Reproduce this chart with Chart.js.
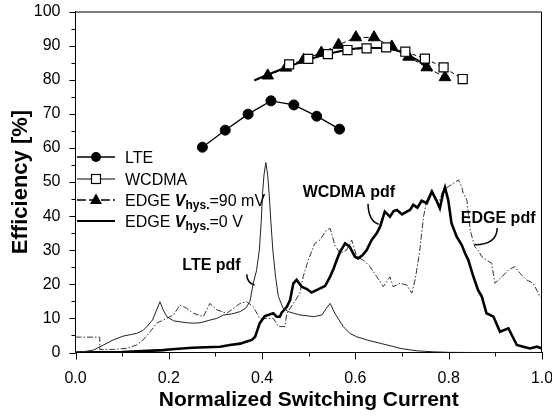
<!DOCTYPE html>
<html>
<head>
<meta charset="utf-8">
<script src="https://cdn.jsdelivr.net/npm/chart.js@4/dist/chart.umd.min.js"></script>
<style>
  html, body { margin: 0; padding: 0; background: #fff; }
  #wrap { width: 552px; height: 417px; position: relative; }
</style>
</head>
<body>
<div id="wrap"><canvas id="c" width="552" height="417"></canvas></div>
<script>
// Efficiency curves (left axis, %)
const lteX = [0.272, 0.321, 0.370, 0.419, 0.468, 0.517, 0.566];
const lteEff = [60.2, 65.2, 69.9, 73.8, 72.6, 69.3, 65.5];

const wcdmaX = [0.458, 0.499, 0.541, 0.583, 0.624, 0.666, 0.707, 0.749, 0.789, 0.830];
const wcdmaEff = [84.5, 86.1, 87.5, 88.7, 89.2, 89.5, 88.2, 86.2, 83.6, 80.2];

const edge90X = [0.412, 0.451, 0.489, 0.527, 0.564, 0.601, 0.640, 0.678, 0.714, 0.753, 0.792];
const edge90Eff = [81.2, 83.5, 85.8, 87.9, 90.2, 92.4, 92.4, 89.7, 86.7, 83.6, 80.7];

const edge0X = [0.383, 0.42, 0.46, 0.50, 0.54, 0.58, 0.62, 0.66, 0.70, 0.73, 0.765];
const edge0Eff = [79.8, 81.9, 84.0, 85.9, 87.5, 88.7, 89.4, 89.3, 88.0, 86.0, 82.6];

// Switching-current probability density curves (same axis)
const ltePdfX = [0, 0.02, 0.038, 0.06, 0.081, 0.102, 0.12, 0.131, 0.145, 0.153, 0.165, 0.174, 0.181, 0.188, 0.196, 0.21, 0.224, 0.24, 0.253, 0.267, 0.288, 0.303, 0.317, 0.335, 0.353, 0.365, 0.374, 0.381, 0.388, 0.394, 0.398, 0.401, 0.404, 0.408, 0.412, 0.415, 0.419, 0.423, 0.429, 0.435, 0.445, 0.456, 0.468, 0.481, 0.495, 0.51, 0.528, 0.538, 0.546, 0.556, 0.574, 0.588, 0.603, 0.624, 0.653, 0.68, 0.696, 0.731, 0.767, 0.8, 0.85, 0.9, 1.0];
const ltePdf = [0, 0.3, 0.7, 2.2, 3.7, 4.8, 5.3, 5.6, 6.5, 7.6, 9.5, 12.5, 14.9, 12.5, 10.5, 9.3, 9.0, 8.7, 8.6, 8.7, 9.5, 10.0, 11.0, 11.3, 12.0, 13.0, 15.0, 20.3, 24.0, 30.0, 38.0, 46.7, 52.0, 55.7, 52.0, 46.7, 38.0, 30.0, 22.0, 16.4, 13.0, 12.0, 11.5, 11.0, 10.8, 10.5, 11.0, 13.0, 14.4, 11.5, 7.6, 5.6, 4.6, 3.7, 2.7, 1.8, 1.2, 0.5, 0.2, 0.05, 0, 0, 0];

const wcdmaPdfX = [0, 0.1, 0.188, 0.2, 0.25, 0.31, 0.331, 0.353, 0.367, 0.378, 0.385, 0.395, 0.406, 0.424, 0.431, 0.438, 0.442, 0.453, 0.46, 0.467, 0.474, 0.485, 0.496, 0.506, 0.52, 0.535, 0.545, 0.553, 0.56, 0.567, 0.578, 0.588, 0.599, 0.606, 0.615, 0.624, 0.635, 0.646, 0.653, 0.663, 0.667, 0.674, 0.682, 0.689, 0.7, 0.71, 0.717, 0.724, 0.733, 0.742, 0.753, 0.764, 0.774, 0.781, 0.788, 0.792, 0.799, 0.806, 0.817, 0.828, 0.835, 0.842, 0.853, 0.863, 0.871, 0.881, 0.896, 0.91, 0.928, 0.946, 0.96, 0.974, 0.989, 1.0];
const wcdmaPdf = [0, 0.1, 0.7, 0.9, 1.4, 1.7, 2.2, 2.6, 3.2, 3.7, 4.6, 8.6, 10.7, 11.5, 10.5, 10.5, 11.7, 13.4, 15.4, 20.3, 21.3, 19.3, 18.6, 17.6, 18.5, 19.5, 22.0, 24.5, 27.1, 29.5, 32.0, 31.0, 28.1, 27.6, 28.5, 30.0, 33.0, 35.0, 36.9, 41.3, 40.8, 39.8, 41.5, 41.8, 40.5, 41.3, 41.8, 43.3, 42.5, 44.5, 43.8, 47.2, 44.5, 42.3, 46.7, 48.4, 44.7, 37.9, 34.0, 31.5, 29.1, 27.1, 22.2, 18.3, 16.4, 11.5, 10.5, 6.1, 7.1, 2.2, 1.7, 1.2, 1.7, 1.2];

const edgePdfX = [0, 0.052, 0.052, 0.081, 0.11, 0.131, 0.145, 0.16, 0.174, 0.188, 0.21, 0.224, 0.238, 0.253, 0.274, 0.288, 0.303, 0.324, 0.353, 0.367, 0.381, 0.395, 0.41, 0.424, 0.435, 0.449, 0.453, 0.467, 0.481, 0.488, 0.499, 0.513, 0.524, 0.538, 0.546, 0.556, 0.567, 0.581, 0.592, 0.603, 0.617, 0.631, 0.646, 0.66, 0.674, 0.681, 0.696, 0.71, 0.721, 0.728, 0.735, 0.738, 0.746, 0.753, 0.764, 0.774, 0.781, 0.788, 0.799, 0.81, 0.821, 0.828, 0.831, 0.839, 0.846, 0.856, 0.863, 0.871, 0.881, 0.892, 0.899, 0.914, 0.928, 0.942, 0.953, 0.967, 0.981, 0.996, 1.0];
const edgePdf = [4.5, 4.5, 0.9, 0.9, 1.2, 2.2, 3.7, 6.1, 8.6, 9.5, 11.0, 13.9, 13.0, 11.5, 10.5, 14.4, 12.5, 11.5, 14.4, 14.9, 13.4, 10.0, 10.0, 10.0, 7.6, 7.6, 11.5, 14.4, 17.4, 22.2, 27.1, 32.0, 33.0, 35.9, 36.4, 31.5, 29.1, 30.0, 33.0, 28.1, 27.1, 25.2, 22.2, 19.3, 22.2, 19.3, 20.3, 19.8, 17.4, 21.3, 27.1, 30.0, 39.8, 44.7, 47.7, 44.7, 44.7, 47.7, 48.6, 49.6, 50.6, 48.6, 46.7, 44.7, 35.9, 31.0, 30.0, 28.1, 27.1, 26.2, 20.3, 22.2, 24.2, 25.2, 23.2, 21.3, 20.3, 16.4, 15.9];

// Axis ticks
const xTickStep = 0.1;
const yTickStep = 5;

const FONT = "'Liberation Sans', Arial, Helvetica, sans-serif";
const pts = (xs, ys) => xs.map((x, i) => ({ x: x, y: ys[i] }));

// Outward tick marks (long for labelled, short for unlabelled), frame and annotations
const decor = {
  id: 'decor',
  afterDraw(chart) {
    const ctx = chart.ctx;
    const xs = chart.scales.x, ys = chart.scales.y;
    const a = chart.chartArea;
    ctx.save();
    ctx.strokeStyle = '#000';
    ctx.lineWidth = 1;
    // frame top and right
    ctx.beginPath();
    ctx.moveTo(a.left, a.top + 0.5);
    ctx.lineTo(a.right - 0.5, a.top + 0.5);
    ctx.lineTo(a.right - 0.5, a.bottom);
    ctx.stroke();
    // x ticks
    xs.ticks.forEach(t => {
      const major = Math.round(t.value * 10) % 2 === 0;
      const px = Math.round(xs.getPixelForValue(t.value)) + 0.5;
      ctx.beginPath();
      ctx.moveTo(px, a.bottom);
      ctx.lineTo(px, a.bottom + (major ? 7 : 4));
      ctx.stroke();
    });
    // y ticks
    ys.ticks.forEach(t => {
      const major = Math.round(t.value) % 10 === 0;
      const py = Math.round(ys.getPixelForValue(t.value)) + 0.5;
      ctx.beginPath();
      ctx.moveTo(a.left, py);
      ctx.lineTo(a.left - (major ? 6 : 4), py);
      ctx.stroke();
    });

    // pdf labels with curved leaders
    const P = (x, y) => [xs.getPixelForValue(x), ys.getPixelForValue(y)];
    ctx.fillStyle = '#000';
    ctx.font = 'bold 16px ' + FONT;
    ctx.textAlign = 'center';
    ctx.textBaseline = 'middle';
    const labels = [
      ['LTE pdf', 0.2915, 25.5],
      ['WCDMA pdf', 0.586, 46.9],
      ['EDGE pdf', 0.906, 39.4]
    ];
    labels.forEach(l => { const p = P(l[1], l[2]); ctx.fillText(l[0], p[0], p[1]); });
    const leaders = [
      [[0.367, 22.9], [0.368, 20.3], [0.384, 19.8]],
      [[0.627, 43.6], [0.628, 38.5], [0.650, 37.6]],
      [[0.904, 36.5], [0.903, 31.6], [0.856, 31.6]]
    ];
    ctx.lineWidth = 1.5;
    leaders.forEach(l => {
      const s = P(...l[0]), c = P(...l[1]), e = P(...l[2]);
      ctx.beginPath();
      ctx.moveTo(s[0], s[1]);
      ctx.quadraticCurveTo(c[0], c[1], e[0], e[1]);
      ctx.stroke();
    });

    // legend
    const lx0 = 77, lx1 = 115, mx = 96, tx = 125;
    const rows = [157, 179, 200, 221];
    ctx.textAlign = 'left';
    ctx.textBaseline = 'alphabetic';
    const drawSample = (y, dash, width) => {
      ctx.save();
      ctx.lineWidth = width;
      ctx.setLineDash(dash);
      ctx.beginPath();
      ctx.moveTo(lx0, y); ctx.lineTo(lx1, y);
      ctx.stroke();
      ctx.restore();
    };
    // LTE
    drawSample(rows[0], [], 1.3);
    ctx.beginPath(); ctx.arc(mx, rows[0], 5, 0, Math.PI * 2); ctx.fill();
    // WCDMA
    drawSample(rows[1], [], 1.2);
    ctx.fillStyle = '#fff';
    ctx.fillRect(mx - 4.5, rows[1] - 4.5, 9, 9);
    ctx.lineWidth = 1.2;
    ctx.strokeRect(mx - 4.5, rows[1] - 4.5, 9, 9);
    ctx.fillStyle = '#000';
    // EDGE 90 mV
    drawSample(rows[2], [9, 3], 1.3);
    ctx.beginPath();
    ctx.moveTo(mx, rows[2] - 6.5);
    ctx.lineTo(mx + 6, rows[2] + 4);
    ctx.lineTo(mx - 6, rows[2] + 4);
    ctx.closePath(); ctx.fill();
    // EDGE 0 V
    drawSample(rows[3], [], 2);

    const base = r => rows[r] + 6;
    ctx.font = '16px ' + FONT;
    ctx.fillText('LTE', tx, base(0));
    ctx.fillText('WCDMA', tx, base(1));
    const hysRow = (r, tail) => {
      let x = tx;
      ctx.font = '16px ' + FONT;
      ctx.fillText('EDGE ', x, base(r)); x += ctx.measureText('EDGE ').width;
      ctx.font = 'italic bold 16px ' + FONT;
      ctx.fillText('V', x, base(r)); x += ctx.measureText('V').width;
      ctx.font = 'bold 12px ' + FONT;
      ctx.fillText('hys.', x, base(r) + 3); x += ctx.measureText('hys.').width;
      ctx.font = '16px ' + FONT;
      ctx.fillText(tail, x, base(r));
    };
    hysRow(2, '=90 mV');
    hysRow(3, '=0 V');
    ctx.restore();
  }
};

new Chart(document.getElementById('c'), {
  type: 'line',
  data: {
    datasets: [
      { label: 'LTE', data: pts(lteX, lteEff), borderColor: '#000', borderWidth: 1.3,
        pointStyle: 'circle', pointRadius: 5, pointBackgroundColor: '#000', pointBorderColor: '#000', pointBorderWidth: 1 },
      { label: 'WCDMA', data: pts(wcdmaX, wcdmaEff), borderColor: '#000', borderWidth: 1, borderDash: [4, 3],
        pointStyle: 'rect', pointRadius: 6.4, pointBackgroundColor: '#fff', pointBorderColor: '#000', pointBorderWidth: 1.2 },
      { label: 'EDGE Vhys.=90 mV', data: pts(edge90X, edge90Eff), borderColor: '#000', borderWidth: 1, borderDash: [5, 3],
        pointStyle: 'triangle', pointRadius: 6.7, pointBackgroundColor: '#000', pointBorderColor: '#000', pointBorderWidth: 1 },
      { label: 'EDGE Vhys.=0 V', data: pts(edge0X, edge0Eff), borderColor: '#000', borderWidth: 2,
        pointRadius: 0, tension: 0.4, cubicInterpolationMode: 'monotone' },
      { label: 'LTE pdf', data: pts(ltePdfX, ltePdf), borderColor: '#222', borderWidth: 1, pointRadius: 0 },
      { label: 'WCDMA pdf', data: pts(wcdmaPdfX, wcdmaPdf), borderColor: '#000', borderWidth: 2.6, pointRadius: 0 },
      { label: 'EDGE pdf', data: pts(edgePdfX, edgePdf), borderColor: '#333', borderWidth: 1, borderDash: [6, 2, 1.5, 2], pointRadius: 0 }
    ]
  },
  options: {
    responsive: false,
    animation: false,
    layout: { padding: { left: 0, right: 10, top: 11.5, bottom: 0 } },
    plugins: { legend: { display: false }, tooltip: { enabled: false } },
    elements: { line: { fill: false } },
    scales: {
      x: {
        type: 'linear', min: 0, max: 1,
        ticks: {
          stepSize: xTickStep, autoSkip: false, maxRotation: 0, padding: 10, color: '#000',
          font: { family: FONT, size: 16 },
          callback: v => (Math.round(v * 10) % 2 === 0 ? v.toFixed(1) : '')
        },
        grid: { drawOnChartArea: false, drawTicks: true, tickLength: 6, tickColor: 'rgba(0,0,0,0)' },
        border: { display: true, color: '#000', width: 1 },
        title: { display: true, text: 'Normalized Switching Current', color: '#000',
          font: { family: FONT, size: 21, weight: 'bold' }, padding: { top: 0, bottom: 4 } },
        afterFit: s => { s.height = 64.5; s.paddingLeft = 0; s.paddingRight = 0; }
      },
      y: {
        min: 0, max: 100,
        ticks: {
          stepSize: yTickStep, autoSkip: false, padding: 9, color: '#000',
          font: { family: FONT, size: 16 },
          callback: v => (Math.round(v) % 10 === 0 ? String(v) : '')
        },
        grid: { drawOnChartArea: false, drawTicks: true, tickLength: 6, tickColor: 'rgba(0,0,0,0)' },
        border: { display: true, color: '#000', width: 1 },
        title: { display: true, text: 'Efficiency [%]', color: '#000',
          font: { family: FONT, size: 22, weight: 'bold' }, padding: { top: 8, bottom: 0 } },
        afterFit: s => { s.width = 75.5; s.paddingTop = 0; s.paddingBottom = 0; }
      }
    }
  },
  plugins: [decor]
});
</script>
</body>
</html>
